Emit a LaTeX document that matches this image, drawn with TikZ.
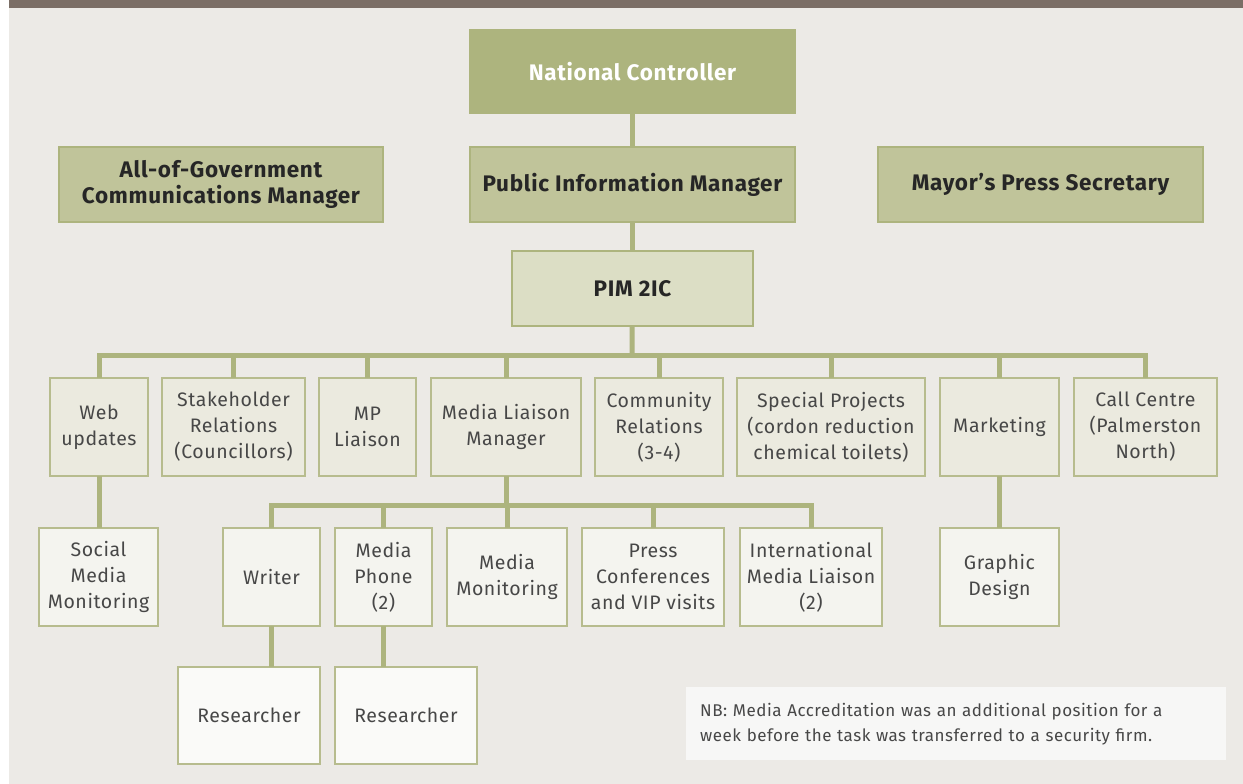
\documentclass[tikz,border=0pt]{standalone}
\usepackage{fontspec}
\setmainfont{Fira Sans}[LetterSpace=3]
\usetikzlibrary{positioning}

\definecolor{lineolive}{HTML}{ADB47E}
\definecolor{midolive}{HTML}{C0C49A}
\definecolor{paleolive}{HTML}{DCDEC5}
\definecolor{boxedge}{HTML}{B7BC8E}
\definecolor{teamfill}{HTML}{EBEADF}
\definecolor{stafffill}{HTML}{F4F4EF}
\definecolor{helperfill}{HTML}{FAFAF8}
\definecolor{panelgrey}{HTML}{ECEAE6}
\definecolor{bargrey}{HTML}{7B6E66}
\definecolor{notefill}{HTML}{F7F7F6}
\definecolor{textdark}{HTML}{262626}
\definecolor{textgrey}{HTML}{474747}

\tikzset{
	box/.style={draw=boxedge, line width=1.5pt, outer sep=0pt, inner sep=2pt, align=center, text=textgrey, font=\fontsize{19.5}{26}\selectfont},
	headbox/.style={box, fill=midolive, draw=lineolive, minimum height=75pt, text=textdark, font=\bfseries\fontsize{22.5}{26.5}\selectfont},
	teambox/.style={box, fill=teamfill, minimum height=98pt},
	staffbox/.style={box, fill=stafffill, minimum height=98pt},
	helperbox/.style={box, fill=helperfill, minimum height=97pt, minimum width=142pt},
	branch/.style={draw=lineolive, line width=5pt},
}

\begin{document}
\begin{tikzpicture}[x=1pt, y=-1pt]
		\useasboundingbox (0,0) rectangle (1243,784);
		\fill[panelgrey] (9,8) rectangle (1243,784);
		\fill[bargrey] (9,0) rectangle (1243,8);
		
		% top of the structure
		\node[headbox, fill=lineolive, text=white, minimum width=325pt, minimum height=83pt, anchor=north west] (nc) at (470,30) {National Controller};
		\node[headbox, minimum width=325pt, anchor=north west] (pim) at (470,147) {Public Information Manager};
		\node[headbox, minimum width=324pt, anchor=north west] (aog) at (59,147) {All-of-Government\\Communications Manager};
		\node[headbox, minimum width=325pt, anchor=north west] (mayor) at (878,147) {Mayor’s Press Secretary};
		\node[headbox, fill=paleolive, minimum width=241pt, anchor=north west] (pimtwo) at (512,251) {PIM 2IC};
		
		% teams under the 2IC
		\node[teambox, minimum width=98pt, anchor=north west] (web) at (50,378) {Web\\updates};
		\node[teambox, minimum width=143pt, right=14pt of web] (stake) {Stakeholder\\Relations\\(Councillors)};
		\node[teambox, minimum width=97pt, right=14pt of stake] (mp) {MP\\Liaison};
		\node[teambox, minimum width=150pt, right=15pt of mp] (mlm) {Media Liaison\\Manager};
		\node[teambox, minimum width=128pt, right=14pt of mlm] (comm) {Community\\Relations\\(3-4)};
		\node[teambox, minimum width=188pt, right=14pt of comm] (special) {Special Projects\\(cordon reduction\\chemical toilets)};
		\node[teambox, minimum width=119pt, right=15pt of special] (mkt) {Marketing};
		\node[teambox, minimum width=143pt, right=15pt of mkt] (call) {Call Centre\\(Palmerston\\North)};
		
		% staff
		\node[staffbox, minimum width=119pt, anchor=north west] (social) at (39,528) {Social\\Media\\Monitoring};
		\node[staffbox, minimum width=97pt, anchor=north west] (writer) at (223,528) {Writer};
		\node[staffbox, minimum width=97pt, right=15pt of writer] (phone) {Media\\Phone\\(2)};
		\node[staffbox, minimum width=120pt, right=15pt of phone] (monitor) {Media\\Monitoring};
		\node[staffbox, minimum width=142pt, right=15pt of monitor] (press) {Press\\Conferences\\and VIP visits};
		\node[staffbox, minimum width=142pt, right=16pt of press] (intl) {International\\Media Liaison\\(2)};
		\node[staffbox, minimum width=119pt, below=52pt of mkt] (graphic) {Graphic\\Design};
		
		\node[helperbox, anchor=north east] (resone) at (writer.south east |- 0,667) {Researcher};
		\node[helperbox, anchor=north west] (restwo) at (phone.south west |- 0,667) {Researcher};
		
		\node[fill=notefill, minimum width=540pt, minimum height=73pt, text width=512pt, inner xsep=14pt, align=left, text=textgrey, font=\fontsize{17}{25}\selectfont, anchor=north west] (note) at (686,687) {NB: Media Accreditation was an additional position for a\\week before the task was transferred to a security firm.};
		
		% connectors
		\draw[branch] (nc) -- (pim);
		\draw[branch] (pim) -- (pimtwo);
		\coordinate (mainbus) at (632,355);
		\draw[branch] (pimtwo) -- (mainbus);
		\foreach \team in {web,stake,mp,mlm,comm,special,mkt,call}
			\draw[branch] (mainbus) -| (\team.north);
		
		\coordinate (mediabus) at (mlm.south |- 0,505);
		\draw[branch] (mlm) -- (mediabus);
		\foreach \staff in {writer,phone,monitor,press,intl}
			\draw[branch] (mediabus) -| (\staff.north);
		
		\draw[branch] (web.south) -- (web.south |- social.north);
		\draw[branch] (mkt) -- (graphic);
		\draw[branch] (writer) -- (writer.south |- resone.north);
		\draw[branch] (phone) -- (phone.south |- restwo.north);
	\end{tikzpicture}
\end{document}
